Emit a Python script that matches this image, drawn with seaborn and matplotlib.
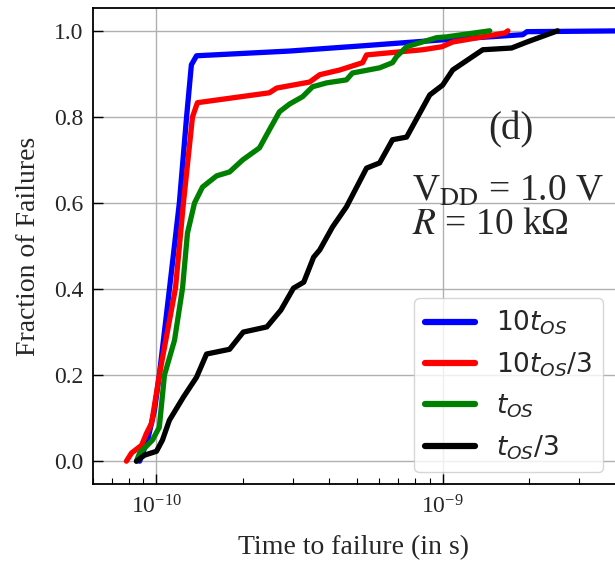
import numpy as np
import pandas as pd
import matplotlib
matplotlib.use("Agg")
import matplotlib.pyplot as plt
import matplotlib.ticker as mticker
import seaborn as sns

# fraction of failures vs time to failure
t_10tos = [8.73e-11, 9.31e-11, 9.84e-11, 1.023e-10, 1.109e-10, 1.202e-10, 1.274e-10,
           1.324e-10, 1.38e-10, 2.92e-10, 5.21e-10, 1.0e-9, 1.905e-9, 1.97e-9, 4.5e-9]
f_10tos = [0.0, 0.049, 0.119, 0.2, 0.398, 0.6, 0.8, 0.921, 0.942, 0.953, 0.965,
           0.979, 0.991, 0.998, 1.0]

t_10tos3 = [7.85e-11, 8.18e-11, 8.87e-11, 9.23e-11, 9.61e-11, 1.023e-10, 1.165e-10,
            1.242e-10, 1.336e-10, 1.39e-10, 2.48e-10, 2.63e-10, 3.43e-10, 3.72e-10,
            4.37e-10, 5.25e-10, 5.42e-10, 6.53e-10, 8.51e-10, 9.93e-10, 1.084e-9,
            1.38e-9, 1.65e-9, 1.69e-9]
f_10tos3 = [0.0, 0.019, 0.037, 0.065, 0.088, 0.2, 0.402, 0.6, 0.8, 0.833, 0.856,
            0.867, 0.881, 0.898, 0.909, 0.926, 0.944, 0.949, 0.956, 0.963, 0.974,
            0.986, 0.995, 1.0]

t_tos = [8.51e-11, 8.73e-11, 9.68e-11, 1.023e-10, 1.066e-10, 1.156e-10, 1.233e-10,
         1.283e-10, 1.358e-10, 1.448e-10, 1.622e-10, 1.80e-10, 2.00e-10, 2.29e-10,
         2.48e-10, 2.69e-10, 2.92e-10, 3.24e-10, 3.51e-10, 3.93e-10, 4.61e-10,
         4.84e-10, 6.02e-10, 6.68e-10, 6.90e-10, 7.48e-10, 9.52e-10, 1.033e-9, 1.46e-9]
f_tos = [0.0, 0.019, 0.049, 0.079, 0.2, 0.281, 0.402, 0.53, 0.6, 0.637, 0.663,
         0.672, 0.7, 0.728, 0.77, 0.812, 0.83, 0.847, 0.87, 0.879, 0.886, 0.902,
         0.914, 0.926, 0.94, 0.963, 0.984, 0.986, 1.0]

t_tos3 = [8.51e-11, 9.08e-11, 1.0e-10, 1.049e-10, 1.109e-10, 1.242e-10, 1.38e-10,
          1.496e-10, 1.80e-10, 2.01e-10, 2.43e-10, 2.72e-10, 3.01e-10, 3.27e-10,
          3.54e-10, 3.72e-10, 4.12e-10, 4.61e-10, 5.42e-10, 6.02e-10, 6.68e-10,
          7.48e-10, 8.32e-10, 9.01e-10, 1.0e-9, 1.084e-9, 1.38e-9, 1.74e-9, 1.97e-9,
          2.52e-9]
f_tos3 = [0.0, 0.014, 0.023, 0.049, 0.095, 0.149, 0.195, 0.249, 0.26, 0.3, 0.312,
          0.351, 0.402, 0.416, 0.474, 0.491, 0.544, 0.591, 0.681, 0.693, 0.747,
          0.753, 0.809, 0.851, 0.874, 0.909, 0.956, 0.96, 0.974, 1.0]

labels = [r"$10t_{OS}$", r"$10t_{OS}/3$", r"$t_{OS}$", r"$t_{OS}/3$"]
colors = ["#0000ff", "#ff0000", "#008000", "#000000"]
x_major = [1e-10, 1e-9]
x_minor = [6e-11, 7e-11, 8e-11, 9e-11, 2e-10, 3e-10, 4e-10, 5e-10, 6e-10,
           7e-10, 8e-10, 9e-10, 2e-9, 3e-9]

frames = []
for lab, t, f in zip(labels, [t_10tos, t_10tos3, t_tos, t_tos3],
                     [f_10tos, f_10tos3, f_tos, f_tos3]):
    frames.append(pd.DataFrame({"time": t, "frac": f, "case": lab}))
df = pd.concat(frames, ignore_index=True)

sns.set_style("whitegrid")
plt.rcParams["font.family"] = ["Liberation Serif", "DejaVu Sans"]
plt.rcParams["mathtext.fontset"] = "stix"

fig = plt.figure(figsize=(6.15, 5.65), dpi=100)
ax = fig.add_axes([93 / 615, 81 / 565, 522 / 615, 476 / 565])

sns.lineplot(data=df, x="time", y="frac", hue="case", palette=colors,
             estimator=None, sort=False, linewidth=3.8, ax=ax, legend=False)

ax.set_xscale("log")
ax.set_xlim(6e-11, 4e-9)
ax.set_ylim(-0.053, 1.053)
ax.set_yticks([0.0, 0.2, 0.4, 0.6, 0.8, 1.0])
ax.set_yticklabels(["0.0", "0.2", "0.4", "0.6", "0.8", "1.0"])
ax.xaxis.set_major_locator(mticker.FixedLocator(x_major))
ax.xaxis.set_major_formatter(mticker.LogFormatterSciNotation())
ax.xaxis.set_minor_locator(mticker.FixedLocator(x_minor))
ax.xaxis.set_minor_formatter(mticker.NullFormatter())

ax.grid(True, which="major", color="#b0b0b0", linewidth=1.0)
ax.grid(False, which="minor")
for s in ["left", "bottom", "top"]:
    ax.spines[s].set_color("black")
    ax.spines[s].set_linewidth(1.3)
ax.spines["right"].set_visible(False)

ax.tick_params(axis="both", which="both", direction="in", color="black",
               bottom=True, left=True, top=False, right=False)
ax.tick_params(axis="both", which="major", length=7, width=1, labelsize=17, pad=7)
ax.tick_params(axis="x", which="minor", length=4, width=0.8)
ax.tick_params(axis="x", which="major", labelsize=17, pad=8)

ax.set_xlabel("Time to failure (in s)", fontsize=20, labelpad=12)
ax.set_ylabel("Fraction of Failures", fontsize=20, labelpad=9)

ax.text(0.80, 0.744, "(d)", transform=ax.transAxes, fontsize=28,
        ha="center", va="center")
ax.text(0.612, 0.595, r"V$_{\rm DD}$ = 1.0 V", transform=ax.transAxes,
        fontsize=27, ha="left", va="baseline")
ax.text(0.612, 0.525, r"$R$ = 10 kΩ", transform=ax.transAxes,
        fontsize=27, ha="left", va="baseline")

handles = [plt.Line2D([], [], color=c, linewidth=4.5) for c in colors]
leg = ax.legend(handles, labels, loc="lower right",
                prop={"family": "DejaVu Sans", "size": 19},
                handlelength=1.9, framealpha=0.8, borderaxespad=0.45)
for txt in leg.get_texts():
    txt.set_math_fontfamily("dejavusans")

fig.savefig("out.png", dpi=100)
